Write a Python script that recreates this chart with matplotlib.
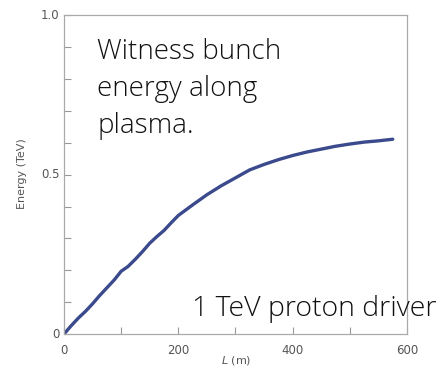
import matplotlib.pyplot as plt
from matplotlib.ticker import MultipleLocator

# witness bunch energy
length_m = [0, 12, 25, 38, 50, 62, 75, 88, 100, 112, 125, 138, 150, 162, 175,
            188, 200, 225, 250, 275, 300, 325, 350, 375, 400, 425, 450, 475,
            500, 525, 550, 575]
energy_tev = [0.0, 0.025, 0.05, 0.072, 0.095, 0.12, 0.145, 0.17, 0.197, 0.212,
              0.235, 0.26, 0.285, 0.305, 0.325, 0.35, 0.372, 0.405, 0.437,
              0.465, 0.49, 0.515, 0.532, 0.547, 0.56, 0.571, 0.58, 0.589,
              0.596, 0.602, 0.606, 0.611]

grey = '#555555'

fig = plt.figure(figsize=(4.41, 3.70), dpi=100)
ax = fig.add_axes([0.145, 0.097, 0.778, 0.862])

ax.plot(length_m, energy_tev, color='#3b4a8c', lw=2.4, solid_capstyle='round')

ax.set_xlim(0, 600)
ax.set_ylim(0, 1.0)
ax.xaxis.set_major_locator(MultipleLocator(100))
ax.set_xticklabels([])
ax.yaxis.set_major_locator(MultipleLocator(0.1))
ax.set_yticklabels([])
ax.tick_params(direction='in', length=5, color='#999999', width=0.8)

for v in [0, 200, 400, 600]:
    ax.text(v, -0.03, str(v), ha='center', va='top', fontsize=8.5, color=grey)
for v, s in [(0, '0'), (0.5, '0.5'), (1.0, '1.0')]:
    ax.text(-8, v, s, ha='right', va='center', fontsize=8.5, color=grey)

for sp in ax.spines.values():
    sp.set_color('#aaaaaa')
    sp.set_linewidth(0.9)

fig.text(0.05, 0.53, 'Energy (TeV)', rotation=90, ha='center', va='center',
         fontsize=8, color=grey)
fig.text(0.535, 0.027, r'$\mathit{L}$ (m)', ha='center', va='center',
         fontsize=8, color=grey)

fig.text(0.22, 0.897, 'Witness bunch\nenergy along\nplasma.', ha='left',
         va='top', fontsize=20, family='Open Sans', weight='light',
         linespacing=1.42, color='#111111')
fig.text(0.435, 0.165, '1 TeV proton driver', ha='left', va='center',
         fontsize=20.5, family='Open Sans', weight='light', color='#111111')

fig.savefig('out.png', dpi=100)
